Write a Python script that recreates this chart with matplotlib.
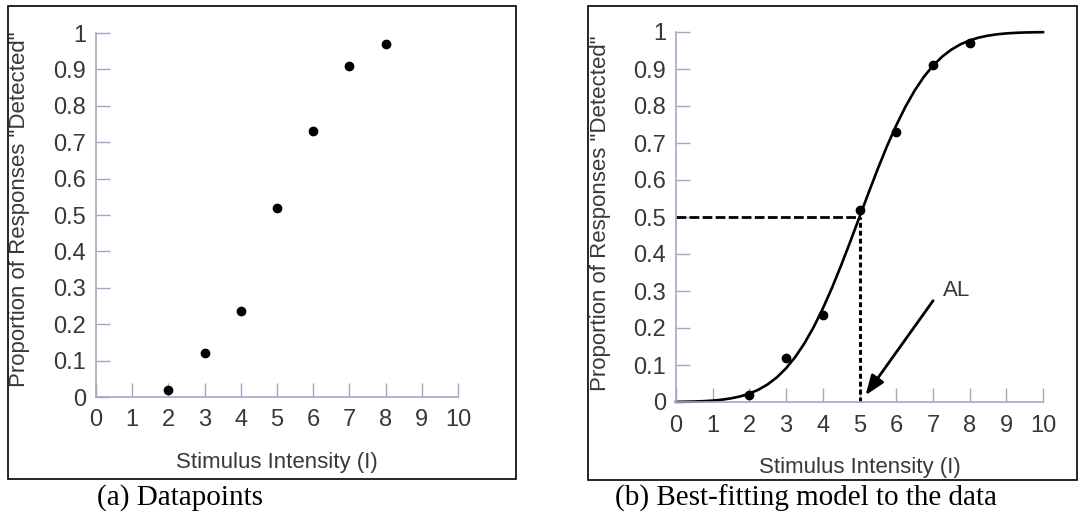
import matplotlib
matplotlib.use("Agg")
import matplotlib.pyplot as plt
from matplotlib.patches import Rectangle

# data
intensity = [2, 3, 4, 5, 6, 7, 8]
p_detected = [0.02, 0.12, 0.235, 0.52, 0.73, 0.91, 0.97]

# fitted curve, read at 0.25 steps
fit_x = [0, 0.25, 0.5, 0.75, 1, 1.25, 1.5, 1.75, 2, 2.25, 2.5, 2.75, 3, 3.25,
         3.5, 3.75, 4, 4.25, 4.5, 4.75, 5, 5.25, 5.5, 5.75, 6, 6.25, 6.5,
         6.75, 7, 7.25, 7.5, 7.75, 8, 8.25, 8.5, 8.75, 9, 9.25, 9.5, 9.75, 10]
fit_y = [0.0004, 0.0008, 0.0013, 0.0023, 0.0038, 0.0062, 0.0099, 0.0151,
         0.0228, 0.0334, 0.0478, 0.0668, 0.0912, 0.1217, 0.1587, 0.2023,
         0.2525, 0.3085, 0.3694, 0.4338, 0.5, 0.5662, 0.6306, 0.6915,
         0.7475, 0.7977, 0.8413, 0.8783, 0.9088, 0.9332, 0.9522, 0.9666,
         0.9772, 0.9849, 0.9901, 0.9938, 0.9962, 0.9977, 0.9987, 0.9992, 0.9996]

threshold_x = 5
threshold_y = 0.5
xticks = list(range(0, 11))
yticks = [0, 0.1, 0.2, 0.3, 0.4, 0.5, 0.6, 0.7, 0.8, 0.9, 1]
ytick_labels = ["0", "0.1", "0.2", "0.3", "0.4", "0.5", "0.6", "0.7", "0.8", "0.9", "1"]

W, H = 1078, 517
axis_col = "#a6a6c4"
text_col = "#383838"

plt.rcParams["font.family"] = ["Liberation Sans", "DejaVu Sans"]

fig = plt.figure(figsize=(W / 100, H / 100), dpi=100)
fig.patch.set_facecolor("white")


def px_axes(x0, x1, ytop, ybot):
    return fig.add_axes([x0 / W, (H - ybot) / H, (x1 - x0) / W, (ybot - ytop) / H])


def style(ax, xlab_y, ylab_x, ylab_y):
    ax.set_xlim(0, 10)
    ax.set_ylim(0, 1)
    for s in ["top", "right"]:
        ax.spines[s].set_visible(False)
    for s in ["left", "bottom"]:
        ax.spines[s].set_color(axis_col)
        ax.spines[s].set_linewidth(1.2)
    ax.set_xticks(xticks)
    ax.set_yticks(yticks)
    ax.set_yticklabels(ytick_labels)
    ax.tick_params(direction="in", length=10, width=1.0, color=axis_col,
                   labelsize=17, labelcolor=text_col)
    ax.tick_params(axis="y", pad=7)
    ax.tick_params(axis="x", pad=9)
    ax.text(0.5, xlab_y, "Stimulus Intensity (I)", transform=ax.transAxes,
            fontsize=16, color=text_col, ha="center", va="center")
    ax.text(ylab_x, ylab_y, 'Proportion of Responses "Detected"', transform=ax.transAxes,
            fontsize=16, color=text_col, ha="center", va="center", rotation=90)


# (a) datapoints
ax1 = px_axes(96, 458, 33, 397)
style(ax1, -0.179, -0.21, 0.515)
ax1.plot(intensity, p_detected, "o", color="black", markersize=6, clip_on=False)

# (b) best fit
ax2 = px_axes(676, 1043, 32, 402)
style(ax2, -0.176, -0.207, 0.51)
ax2.plot(fit_x, fit_y, color="black", lw=1.9, clip_on=False)
ax2.plot(intensity, p_detected, "o", color="black", markersize=6, clip_on=False)
ax2.plot([0, threshold_x], [threshold_y, threshold_y], color="black", lw=2,
         linestyle=(0, (3.5, 1.2)))
ax2.plot([threshold_x, threshold_x], [0, threshold_y], color="black", lw=2.2,
         linestyle=(0, (1.6, 1.0)))
ax2.annotate("", xy=(5.12, 0.012), xytext=(7.05, 0.28),
             arrowprops=dict(arrowstyle="-|>,head_length=1.2,head_width=0.45",
                             color="black", lw=2))
ax2.text(7.65, 0.3, "AL", fontsize=16, color=text_col, ha="center", va="center")

# panel frames
for x0, x1, y0, y1 in [(8, 516, 6, 479), (588, 1077, 6, 480)]:
    fig.patches.append(Rectangle((x0 / W, (H - y1) / H), (x1 - x0) / W, (y1 - y0) / H,
                                 transform=fig.transFigure, fill=False,
                                 edgecolor="black", lw=1.2))

fig.text(180 / W, (H - 498) / H, "(a) Datapoints", family="Liberation Serif",
         fontsize=21, ha="center", va="center")
fig.text(806 / W, (H - 498) / H, "(b) Best-fitting model to the data",
         family="Liberation Serif", fontsize=21, ha="center", va="center")

fig.savefig("out.png", dpi=100)
